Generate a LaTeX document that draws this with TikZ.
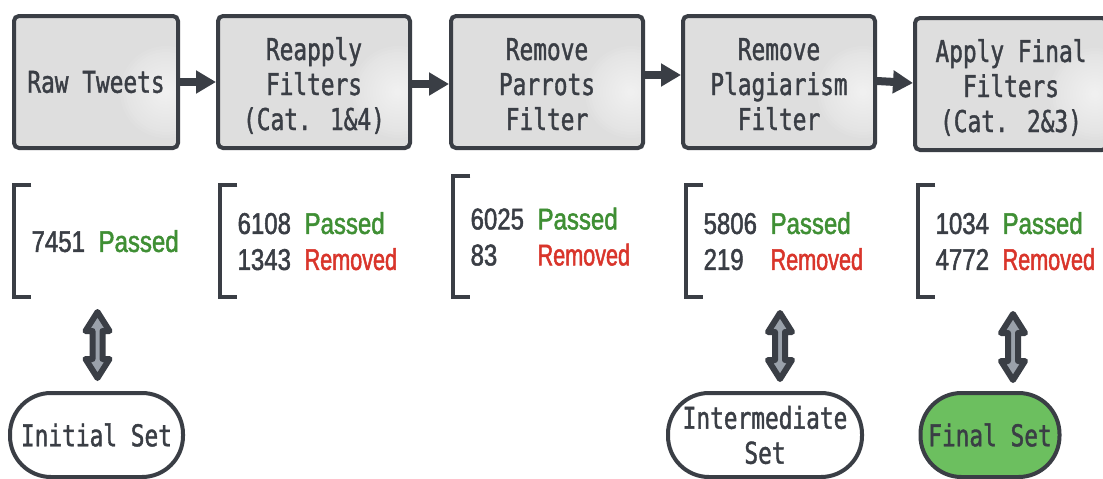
\documentclass[tikz,border=0pt]{standalone}
\usepackage{fontspec}
\usetikzlibrary{arrows.meta}
\newfontfamily\boxfont[FakeStretch=0.76,FakeBold=1.3]{DejaVu Sans Mono}
\newfontfamily\numfont[FakeStretch=0.8,FakeBold=1.6]{Liberation Sans}
\newfontfamily\remfont[FakeStretch=0.72,FakeBold=1.6]{Liberation Sans}

\definecolor{ink}{HTML}{3A3E45}
\definecolor{boxfill}{HTML}{DEDEDE}
\definecolor{passgreen}{HTML}{3F8F34}
\definecolor{remred}{HTML}{D9352B}
\definecolor{finalgreen}{HTML}{6CBF5F}
\definecolor{shaftgray}{HTML}{9AA1AA}

\tikzset{
  stagebox/.style={draw=ink, line width=4pt, fill=boxfill, rounded corners=5pt,
    minimum height=132pt, inner sep=0pt, align=center, text=ink,
    font=\boxfont\fontsize{30}{35}\selectfont,
    % soft light spot near the right side of each stage box
    path picture={\foreach \r in {46,43,...,4}
      \fill[white, opacity=0.07]
        ([xshift=-12pt,yshift=-10pt]path picture bounding box.east) circle (\r pt);}},
  flow/.style={draw=ink, line width=8pt, -{Triangle[length=20pt,width=22pt]}},
  brk/.style={minimum width=17pt, minimum height=112pt, inner sep=0pt},
  brkline/.style={draw=ink, line width=4pt, line cap=butt},
  stat/.style={inner sep=0pt, anchor=west, align=left,
    font=\numfont\fontsize{30}{36}\selectfont, text=ink},
  setoval/.style={draw=ink, line width=4pt, rounded corners=41pt,
    minimum height=84pt, inner sep=0pt, align=center, text=ink,
    font=\boxfont\fontsize{30}{35}\selectfont},
  updown/.pic={
    \filldraw[draw=ink, fill=shaftgray, line width=6pt, line join=round]
      (0,-33) -- (12,-14) -- (5,-14) -- (5,14) -- (12,14) -- (0,33)
      -- (-12,14) -- (-5,14) -- (-5,-14) -- (-12,-14) -- cycle;}
}
% three centred lines, set a little below the middle of the box
\newcommand{\stagelines}[1]{\raisebox{-6pt}[\height][\depth]{\begin{tabular}{@{}c@{}}#1\end{tabular}}}
\newcommand{\statrow}[2]{\makebox[67pt][l]{#1}#2}
\newcommand{\passed}{\textcolor{passgreen}{Passed}}
\newcommand{\removed}{{\remfont\textcolor{remred}{Removed}}}

\begin{document}
\begin{tikzpicture}[x=1pt, y=-1pt]
\useasboundingbox (0,0) rectangle (1103,479);
\fill[white] (0,0) rectangle (1103,479);
\begin{scope}
\clip (0,0) rectangle (1103,479);

% pipeline stages
\node[stagebox, minimum width=164pt] (b1) at (96,82) {Raw Tweets};
\node[stagebox, minimum width=192pt] (b2) at (314,82) {\stagelines{Reapply\\Filters\\(Cat. 1\&4)}};
\node[stagebox, minimum width=192pt] (b3) at (547,82) {\stagelines{Remove\\Parrots\\Filter}};
\node[stagebox, minimum width=192pt] (b4) at (779,82) {\stagelines{Remove\\Plagiarism\\Filter}};
\node[stagebox, minimum width=192pt] (b5) at (1011,84) {\stagelines{Apply Final\\Filters\\(Cat. 2\&3)}};

\draw[flow] (b1.east) -- (b2.west);
\draw[flow] ([yshift=-2pt]b2.east) -- ([yshift=-2pt]b3.west);
\draw[flow] ([yshift=7pt]b3.east) -- ([yshift=7pt]b4.west);
\draw[flow] ([yshift=1pt]b4.east) -- ([yshift=1pt]b5.west);

% counts under each stage
\node[brk, anchor=north west] (k1) at (14,185) {};
\node[brk, anchor=north west] (k2) at (220,185) {};
\node[brk, anchor=north west, minimum height=121pt] (k3) at (453,176) {};
\node[brk, anchor=north west] (k4) at (686,185) {};
\node[brk, anchor=north west] (k5) at (918,185) {};
\foreach \k in {k1,k2,k3,k4,k5}
  \draw[brkline] (\k.north east) -- (\k.north west) -- (\k.south west) -- (\k.south east);

\node[stat] (t1) at (k1.east) {\statrow{7451}{\passed}};
\node[stat] (t2) at (k2.east) {\statrow{6108}{\passed}\\\statrow{1343}{\removed}};
\node[stat] (t3) at (k3.east) {\statrow{6025}{\passed}\\\statrow{83}{\removed}};
\node[stat] (t4) at (k4.east) {\statrow{5806}{\passed}\\\statrow{219}{\removed}};
\node[stat] (t5) at (k5.east) {\statrow{1034}{\passed}\\\statrow{4772}{\removed}};

% resulting data sets
\node[setoval, minimum width=173pt] (o1) at (96.5,435) {Initial Set};
\node[setoval, minimum width=194pt] (o2) at (765,435) {Intermediate\\Set};
\node[setoval, minimum width=139pt, fill=finalgreen] (o3) at (990,435) {Final Set};

\pic at (97.5,345) {updown};
\pic at (780,346) {updown};
\pic at (1013,347) {updown};
\end{scope}
\end{tikzpicture}
\end{document}
